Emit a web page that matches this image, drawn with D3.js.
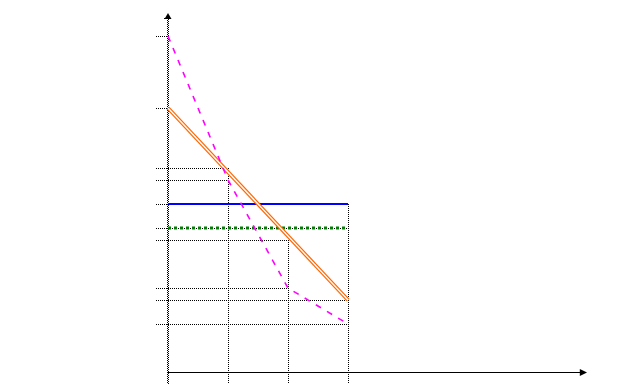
<!DOCTYPE html>
<html>
<head>
<meta charset="utf-8">
<script src="https://cdn.jsdelivr.net/npm/d3@7"></script>
<style>
  body { margin: 0; background: white; }
  svg { display: block; }
</style>
</head>
<body>
<div id="chart"></div>
<script>
const width = 636
const height = 385

// data (x in steps, y in units)
const xValues = [0, 1, 2, 3]
const magentaValues = [28, 16, 7, 4]
const orangeValues = [22, 17, 11, 6]
const blueValues = [14, 14, 14, 14]
const greenValues = [12, 12, 12, 12]
// the orange line is a straight line between its end points
const orangeLineX = [0, 3]
const orangeLineY = [22, 6]
// where each vertical guide line starts
const guideTops = [0, 17, 11, 14]
const xDomain = [0, 7]
const yDomain = [0, 30]

const xScale = d3.scaleLinear().domain(xDomain).range([168, 588])
const yScale = d3.scaleLinear().domain(yDomain).range([372, 12])

const svg = d3.select('#chart').append('svg')
    .attr('width', width)
    .attr('height', height)

svg.append('rect')
    .attr('width', width)
    .attr('height', height)
    .attr('fill', 'white')

const series = [magentaValues, orangeValues, blueValues, greenValues]

// dotted guide lines from the y axis to every point
const grid = svg.append('g').attr('id', 'grid')
xValues.forEach(function(xv, i) {
    series.forEach(function(s) {
        grid.append('line')
            .attr('x1', xScale(-0.2))
            .attr('x2', xScale(xv))
            .attr('y1', yScale(s[i]) + 0.5)
            .attr('y2', yScale(s[i]) + 0.5)
            .attr('stroke', 'black')
            .attr('stroke-width', 1)
            .attr('stroke-dasharray', '1,1')
    })
    if (i > 0) {
        grid.append('line')
            .attr('x1', xScale(xv) + 0.5)
            .attr('x2', xScale(xv) + 0.5)
            .attr('y1', yScale(guideTops[i]))
            .attr('y2', yScale(-1))
            .attr('stroke', 'black')
            .attr('stroke-width', 1)
            .attr('stroke-dasharray', '1,1')
    }
})

// y axis: checkered dotted line with arrow
const yAxis = svg.append('g').attr('id', 'yAxis')
;[0, 1].forEach(function(k) {
    yAxis.append('line')
        .attr('x1', xScale(0) - 0.5 + k)
        .attr('x2', xScale(0) - 0.5 + k)
        .attr('y1', yScale(29.5))
        .attr('y2', yScale(-1))
        .attr('stroke', 'black')
        .attr('stroke-width', 1)
        .attr('stroke-dasharray', '1,1')
        .attr('stroke-dashoffset', k)
})
yAxis.append('line')
    .attr('x1', xScale(0) - 4)
    .attr('x2', xScale(0) + 4)
    .attr('y1', yScale(29.5) + 0.5)
    .attr('y2', yScale(29.5) + 0.5)
    .attr('stroke', 'black')
    .attr('stroke-dasharray', '1,1')
yAxis.append('path')
    .attr('d', 'M' + xScale(0) + ',' + (yScale(30) + 1) +
        'L' + (xScale(0) + 3.5) + ',' + (yScale(29.5) + 1) +
        'L' + (xScale(0) - 3.5) + ',' + (yScale(29.5) + 1) + 'Z')
    .attr('fill', 'black')

// x axis: solid line with arrow
const xAxis = svg.append('g').attr('id', 'xAxis')
xAxis.append('line')
    .attr('x1', xScale(0))
    .attr('x2', xScale(6.9))
    .attr('y1', yScale(0) + 0.5)
    .attr('y2', yScale(0) + 0.5)
    .attr('stroke', 'black')
    .attr('stroke-width', 1.2)
xAxis.append('path')
    .attr('d', 'M' + (xScale(7) - 1) + ',' + (yScale(0) + 0.5) +
        'L' + (xScale(6.88) - 1) + ',' + (yScale(0) - 3) +
        'L' + (xScale(6.88) - 1) + ',' + (yScale(0) + 4) + 'Z')
    .attr('fill', 'black')

const valueline = function(xs, values) {
    return d3.line()
        .x(function(d, i) { return xScale(xs[i]) })
        .y(function(d) { return yScale(d) })(values)
}

const lines = svg.append('g').attr('id', 'lines')

// blue solid
lines.append('path')
    .attr('d', valueline(xValues, blueValues))
    .attr('stroke', '#0000ff')
    .attr('stroke-width', 2)
    .attr('fill', 'none')

// green dotted
lines.append('path')
    .attr('d', valueline(xValues, greenValues))
    .attr('stroke', '#008000')
    .attr('stroke-width', 3)
    .attr('stroke-dasharray', '3,3')
    .attr('fill', 'none')

// orange double line
lines.append('path')
    .attr('d', valueline(orangeLineX, orangeLineY))
    .attr('stroke', '#ff6600')
    .attr('stroke-width', 3.8)
    .attr('fill', 'none')
lines.append('path')
    .attr('d', valueline(orangeLineX, orangeLineY))
    .attr('stroke', 'white')
    .attr('stroke-width', 1.4)
    .attr('fill', 'none')

// magenta dashed
lines.append('path')
    .attr('d', valueline(xValues, magentaValues))
    .attr('stroke', '#ff00ff')
    .attr('stroke-width', 1.6)
    .attr('stroke-dasharray', '6,7')
    .attr('fill', 'none')
</script>
</body>
</html>
